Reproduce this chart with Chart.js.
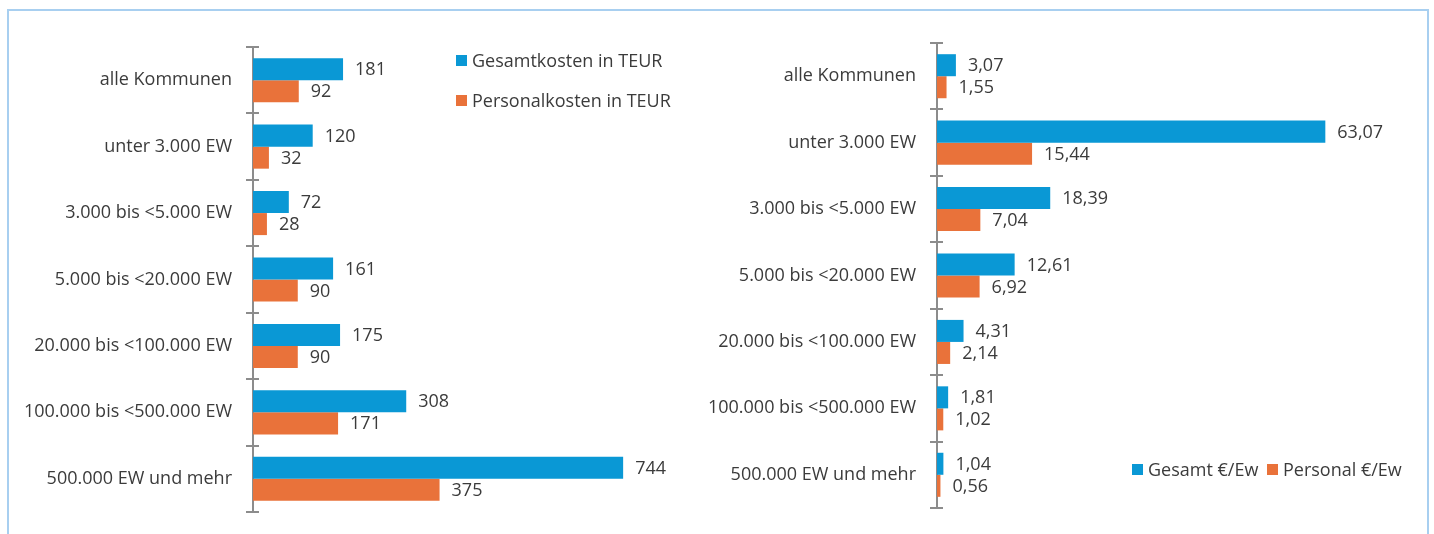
<!DOCTYPE html>
<html>
<head>
<meta charset="utf-8">
<script src="https://cdn.jsdelivr.net/npm/chart.js@4.4.1/dist/chart.umd.min.js"></script>
<style>
  html, body { margin: 0; padding: 0; background: #ffffff; }
  body { width: 1434px; height: 534px; position: relative; overflow: hidden; font-family: "Open Sans", sans-serif; }
  #frame { position: absolute; left: 7px; top: 9px; width: 1422px; height: 540px; border: 2px solid #a8cff0; box-sizing: border-box; }
  .wrap { position: absolute; top: 0; height: 534px; }
  #w1 { left: 0; width: 700px; }
  #w2 { left: 700px; width: 734px; }
  .lg { position: absolute; font-size: 18px; color: #3b3b3b; line-height: 20px; white-space: nowrap; }
  .lg i { position: absolute; left: 0; top: 5px; width: 11px; height: 11px; }
  .lg span { position: absolute; top: 0; }
</style>
</head>
<body>
<div id="frame"></div>
<div class="wrap" id="w1"><canvas id="c1"></canvas></div>
<div class="wrap" id="w2"><canvas id="c2"></canvas></div>

<div class="lg" style="left:456px; top:50px;"><i style="background:#0a98d5"></i><span style="left:16px">Gesamtkosten in TEUR</span></div>
<div class="lg" style="left:456px; top:90px;"><i style="background:#e9723a"></i><span style="left:16px">Personalkosten in TEUR</span></div>
<div class="lg" style="left:1132px; top:459px;"><i style="background:#0a98d5"></i><span style="left:16px">Gesamt €/Ew</span></div>
<div class="lg" style="left:1267px; top:459px;"><i style="background:#e9723a"></i><span style="left:16px">Personal €/Ew</span></div>

<script>
const categories = [
  "alle Kommunen",
  "unter 3.000 EW",
  "3.000 bis <5.000 EW",
  "5.000 bis <20.000 EW",
  "20.000 bis <100.000 EW",
  "100.000 bis <500.000 EW",
  "500.000 EW und mehr"
];
const gesamtTEUR = [181, 120, 72, 161, 175, 308, 744];
const personalTEUR = [92, 32, 28, 90, 90, 171, 375];
const gesamtEw = [3.07, 63.07, 18.39, 12.61, 4.31, 1.81, 1.04];
const personalEw = [1.55, 15.44, 7.04, 6.92, 2.14, 1.02, 0.56];

const BLUE = '#0a98d5';
const ORANGE = '#e9723a';
const TEXT = '#3b3b3b';
const AXIS = '#8c8c8c';
const FONT = '"Open Sans", sans-serif';

Chart.defaults.font.family = FONT;
Chart.defaults.animation = false;

const valueLabels = {
  id: 'valueLabels',
  afterDatasetsDraw(chart, args, opts) {
    const ctx = chart.ctx;
    ctx.save();
    ctx.font = '18px ' + FONT;
    ctx.fillStyle = TEXT;
    ctx.textAlign = 'left';
    ctx.textBaseline = 'middle';
    chart.data.datasets.forEach((ds, di) => {
      const meta = chart.getDatasetMeta(di);
      meta.data.forEach((bar, i) => {
        const v = ds.data[i];
        const txt = opts.decimals
          ? v.toLocaleString('de-DE', {minimumFractionDigits: 2, maximumFractionDigits: 2})
          : v.toLocaleString('de-DE');
        ctx.fillText(txt, bar.x + 12, bar.y + 1);
      });
    });
    ctx.restore();
  }
};

const crossTicks = {
  id: 'crossTicks',
  afterDraw(chart) {
    const y = chart.scales.y;
    const ctx = chart.ctx;
    const x0 = chart.chartArea.left;
    ctx.save();
    ctx.strokeStyle = AXIS;
    ctx.lineWidth = 2;
    for (let i = 0; i <= chart.data.labels.length; i++) {
      const py = Math.round(y.getPixelForValue(i - 0.5));
      ctx.beginPath();
      ctx.moveTo(x0 - 7, py);
      ctx.lineTo(x0 + 6, py);
      ctx.stroke();
    }
    ctx.restore();
  }
};

function makeChart(id, a, b, cfg) {
  return new Chart(document.getElementById(id), {
    type: 'bar',
    data: {
      labels: categories,
      datasets: [
        { label: cfg.la, data: a, backgroundColor: BLUE, barPercentage: 1, categoryPercentage: 0.663 },
        { label: cfg.lb, data: b, backgroundColor: ORANGE, barPercentage: 1, categoryPercentage: 0.663 }
      ]
    },
    options: {
      indexAxis: 'y',
      responsive: true,
      maintainAspectRatio: false,
      layout: { padding: { top: cfg.top, bottom: cfg.bottom, left: 0, right: cfg.right } },
      plugins: {
        legend: { display: false },
        tooltip: { enabled: false },
        valueLabels: { decimals: cfg.decimals }
      },
      scales: {
        x: { display: false, min: 0, max: cfg.max },
        y: {
          grid: { display: false, drawTicks: true, tickLength: 21 },
          border: { display: true, color: AXIS, width: 2 },
          ticks: { color: TEXT, font: { size: 18, family: FONT }, padding: 0 },
          afterFit(scale) { scale.width = cfg.axisW; }
        }
      }
    },
    plugins: [valueLabels, crossTicks]
  });
}

makeChart('c1', gesamtTEUR, personalTEUR, {
  la: 'Gesamtkosten in TEUR', lb: 'Personalkosten in TEUR',
  top: 47, bottom: 22, right: 49, max: 800, axisW: 253, decimals: false
});
makeChart('c2', gesamtEw, personalEw, {
  la: 'Gesamt €/Ew', lb: 'Personal €/Ew',
  top: 43, bottom: 26, right: 66, max: 70, axisW: 237, decimals: true
});
</script>
</body>
</html>
